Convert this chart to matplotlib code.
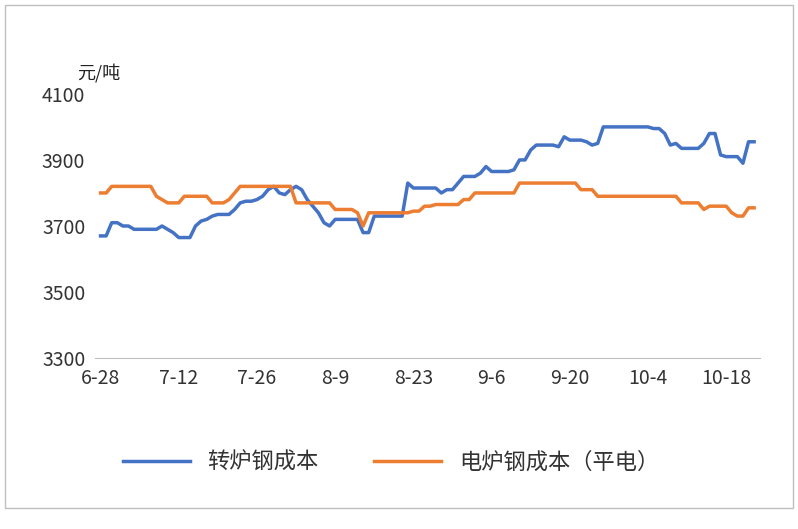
import matplotlib
matplotlib.use("Agg")
import matplotlib.pyplot as plt
import numpy as np
from matplotlib.patches import Rectangle

plt.rcParams['font.family'] = ['Noto Sans CJK SC', 'DejaVu Sans']

def seg(*pairs):
    out = []
    for v, n in pairs:
        out += [v] * n
    return out

bof = seg((3670,2),(3710,2),(3700,2),(3690,5),(3700,1),(3690,1),(3680,1),(3665,3),(3700,1),(3715,1),(3720,1),(3730,1),
          (3735,3),(3750,1),(3770,1),(3775,2),(3780,1),(3790,1),(3810,1),(3820,1),(3800,1),(3795,1),(3810,1),(3820,1),
          (3810,1),(3780,1),(3760,1),(3740,1),(3710,1),(3700,1),(3720,5),(3680,2),(3730,6),(3830,1),(3815,5),(3800,1),
          (3810,2),(3830,1),(3850,3),(3860,1),(3880,1),(3865,4),(3870,1),(3900,2),(3930,1),(3945,4),(3940,1),(3970,1),
          (3960,3),(3955,1),(3945,1),(3950,1),(4000,9),(3995,2),(3980,1),(3945,1),(3950,1),(3935,4),(3950,1),(3980,2),
          (3915,1),(3910,3),(3890,1),(3955,2))
eaf = seg((3800,2),(3820,8),(3790,1),(3780,1),(3770,3),(3790,5),(3770,3),(3780,1),(3800,1),(3820,10),(3770,7),(3750,4),
          (3740,1),(3700,1),(3740,8),(3745,2),(3760,2),(3765,5),(3780,2),(3800,8),(3830,11),(3810,3),(3790,15),(3770,4),
          (3750,1),(3760,4),(3740,1),(3730,2),(3755,2))
tick_labels = ['6-28','7-12','7-26','8-9','8-23','9-6','9-20','10-4','10-18']
yticks = [3300, 3500, 3700, 3900, 4100]

fig = plt.figure(figsize=(7.98, 5.29), dpi=100)
fig.patches.append(Rectangle((0.006, 0.04), 0.988, 0.95, transform=fig.transFigure,
                             fill=False, edgecolor='#bfbfbf', lw=1))
ax = fig.add_axes([0.119, 0.323, 0.833, 0.562])
ax.plot(np.arange(len(bof)), bof, color='#4472C4', lw=2.5, label='转炉钢成本')
ax.plot(np.arange(len(eaf)), eaf, color='#ED7D31', lw=2.5, label='电炉钢成本（平电）')
ax.set_ylim(3300, 4200)
ax.set_xlim(-1, len(bof))
ax.set_yticks(yticks)
ax.set_xticks(np.arange(len(tick_labels)) * 14)
ax.set_xticklabels(tick_labels)
ax.tick_params(length=0, labelsize=14, colors='#333333', pad=7)
for s in ['top', 'right', 'left']:
    ax.spines[s].set_visible(False)
ax.spines['bottom'].set_color('#bfbfbf')
fig.text(0.097, 1 - 73/529, '元/吨', fontsize=13, color='#222222', ha='left', va='center')
fig.legend(loc='center', bbox_to_anchor=(0.49, 1 - 462/529), ncol=2, frameon=False, fontsize=16,
           handlelength=3, columnspacing=2.5, labelcolor='#333333')
fig.savefig('out.png', dpi=100)
